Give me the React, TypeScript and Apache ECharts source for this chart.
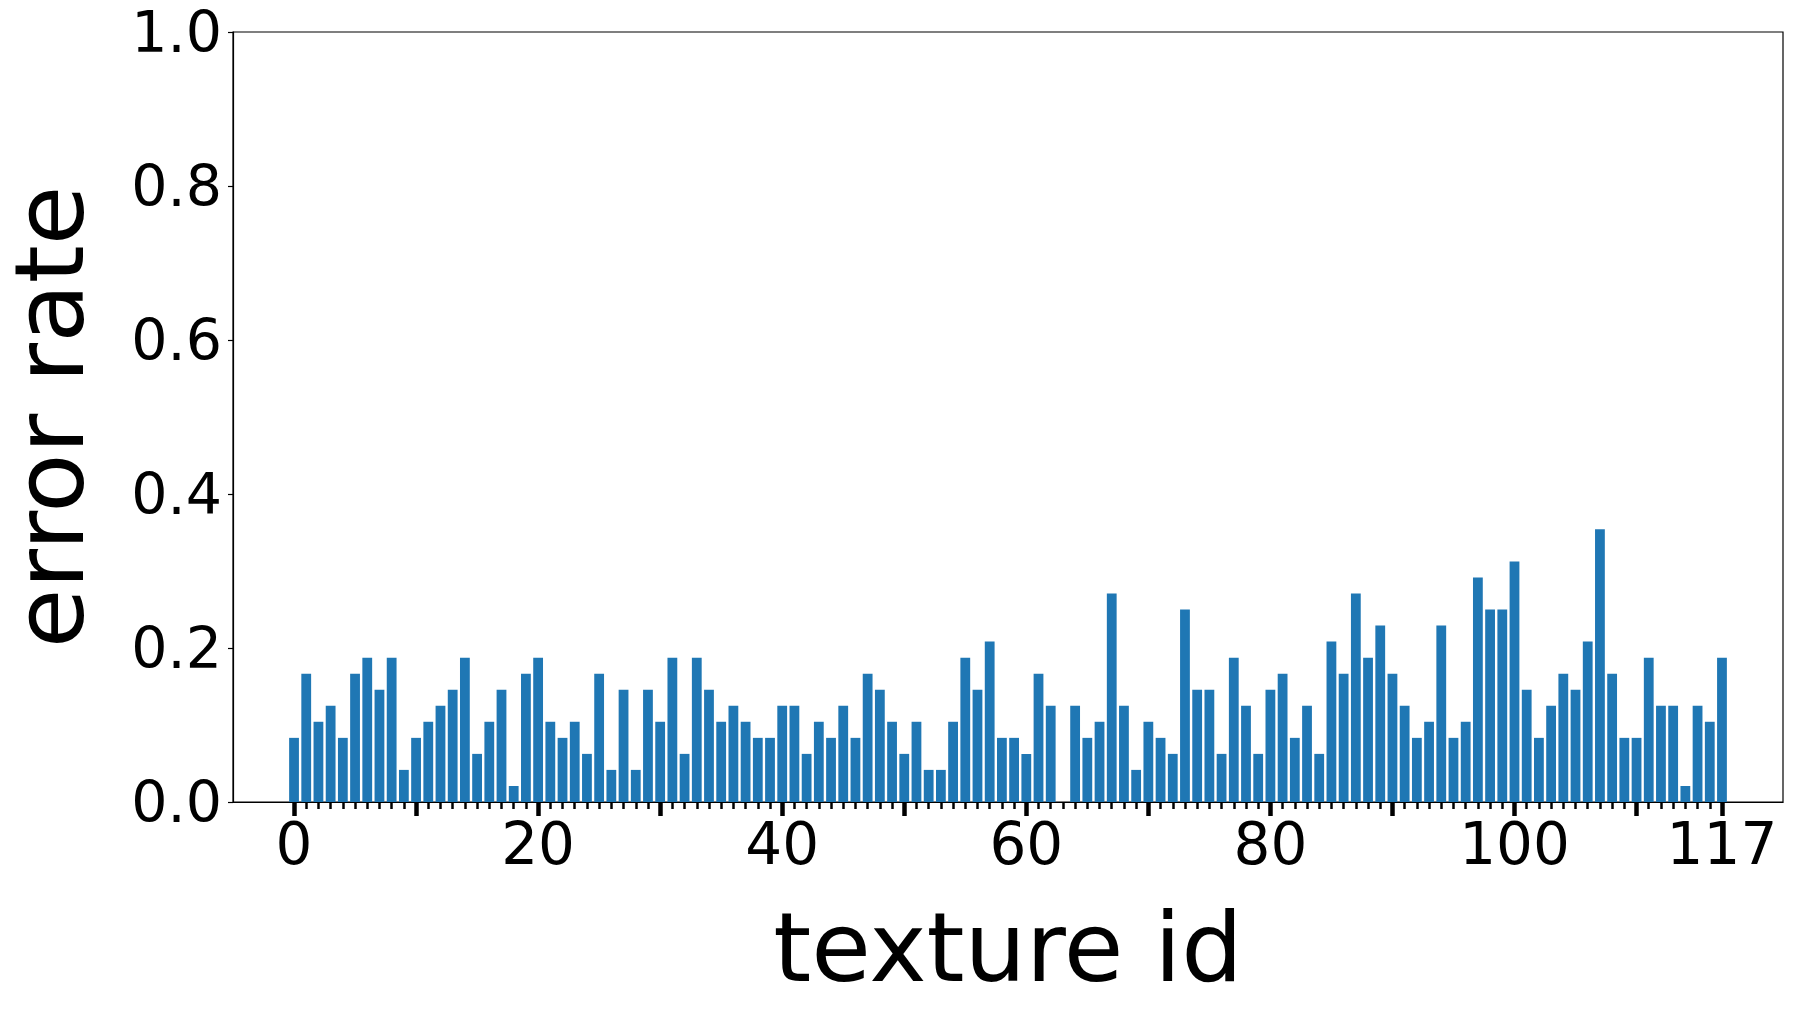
import React, { useEffect, useRef } from "react";
import * as echarts from "echarts";

const errorRate: number[] = [
  0.0833, 0.1667, 0.1042, 0.125, 0.0833, 0.1667, 0.1875, 0.1458, 0.1875, 0.0417,
  0.0833, 0.1042, 0.125, 0.1458, 0.1875, 0.0625, 0.1042, 0.1458, 0.0208, 0.1667,
  0.1875, 0.1042, 0.0833, 0.1042, 0.0625, 0.1667, 0.0417, 0.1458, 0.0417, 0.1458,
  0.1042, 0.1875, 0.0625, 0.1875, 0.1458, 0.1042, 0.125, 0.1042, 0.0833, 0.0833,
  0.125, 0.125, 0.0625, 0.1042, 0.0833, 0.125, 0.0833, 0.1667, 0.1458, 0.1042,
  0.0625, 0.1042, 0.0417, 0.0417, 0.1042, 0.1875, 0.1458, 0.2083, 0.0833, 0.0833,
  0.0625, 0.1667, 0.125, 0, 0.125, 0.0833, 0.1042, 0.2708, 0.125, 0.0417,
  0.1042, 0.0833, 0.0625, 0.25, 0.1458, 0.1458, 0.0625, 0.1875, 0.125, 0.0625,
  0.1458, 0.1667, 0.0833, 0.125, 0.0625, 0.2083, 0.1667, 0.2708, 0.1875, 0.2292,
  0.1667, 0.125, 0.0833, 0.1042, 0.2292, 0.0833, 0.1042, 0.2917, 0.25, 0.25,
  0.3125, 0.1458, 0.0833, 0.125, 0.1667, 0.1458, 0.2083, 0.3542, 0.1667, 0.0833,
  0.0833, 0.1875, 0.125, 0.125, 0.0208, 0.125, 0.1042, 0.1875,
];

const textureIds: number[] = errorRate.map((_, i) => i);
const xLabelValues: number[] = [0, 20, 40, 60, 80, 100, 117];
const xMajorTicks: number[] = [0, 10, 20, 30, 40, 50, 60, 70, 80, 90, 100, 110, 117];

const FONT = "DejaVu Sans";

export default function App() {
  const ref = useRef<HTMLDivElement>(null);
  useEffect(() => {
    if (!ref.current) return;
    const chart = echarts.init(ref.current, undefined, { renderer: "svg" });
    chart.setOption({
      animation: false,
      backgroundColor: "#ffffff",
      grid: {
        left: 233,
        top: 32,
        right: 10,
        bottom: 207,
        containLabel: false,
        outerBoundsMode: "none",
        show: true,
        borderColor: "#000",
        borderWidth: 1.2,
        backgroundColor: "transparent",
      },
      xAxis: [
        {
          type: "value",
          min: -5,
          max: 122,
          position: "bottom",
          name: "texture id",
          nameLocation: "middle",
          nameGap: 97,
          nameTextStyle: { fontFamily: FONT, fontSize: 97, color: "#000" },
          axisLine: { show: true, onZero: false, lineStyle: { color: "#000", width: 1.2 } },
          axisTick: {
            show: true,
            customValues: xMajorTicks,
            length: 14,
            lineStyle: { color: "#000", width: 4.5 },
          },
          axisLabel: {
            show: true,
            customValues: xLabelValues,
            fontFamily: FONT,
            fontSize: 58,
            color: "#000",
            margin: 13,
          },
          splitLine: { show: false },
        },
        {
          type: "value",
          min: -5,
          max: 122,
          position: "bottom",
          offset: 0,
          axisLine: { show: false, onZero: false },
          axisTick: {
            show: true,
            customValues: textureIds,
            length: 7,
            lineStyle: { color: "#000", width: 2.5 },
          },
          axisLabel: { show: false },
          splitLine: { show: false },
        },
      ],
      yAxis: {
        type: "value",
        min: 0,
        max: 1,
        interval: 0.2,
        name: "error rate",
        nameLocation: "middle",
        nameGap: 135,
        nameTextStyle: { fontFamily: FONT, fontSize: 97, color: "#000" },
        axisLine: { show: true, onZero: false, lineStyle: { color: "#000", width: 1.2 } },
        axisTick: { show: true, length: 5, lineStyle: { color: "#000", width: 1.2 } },
        axisLabel: {
          fontFamily: FONT,
          fontSize: 57,
          color: "#000",
          margin: 11,
          formatter: (v: number) => v.toFixed(1),
        },
        splitLine: { show: false },
      },
      series: [
        {
          type: "bar",
          xAxisIndex: 0,
          data: errorRate.map((v, i) => [textureIds[i], v]),
          barWidth: 9.8,
          itemStyle: { color: "#1f77b4" },
        },
      ],
    });
    return () => chart.dispose();
  }, []);
  return (
    <div
      ref={ref}
      style={{ position: "fixed", left: 0, top: 0, width: 1793, height: 1009, background: "#fff" }}
    />
  );
}
